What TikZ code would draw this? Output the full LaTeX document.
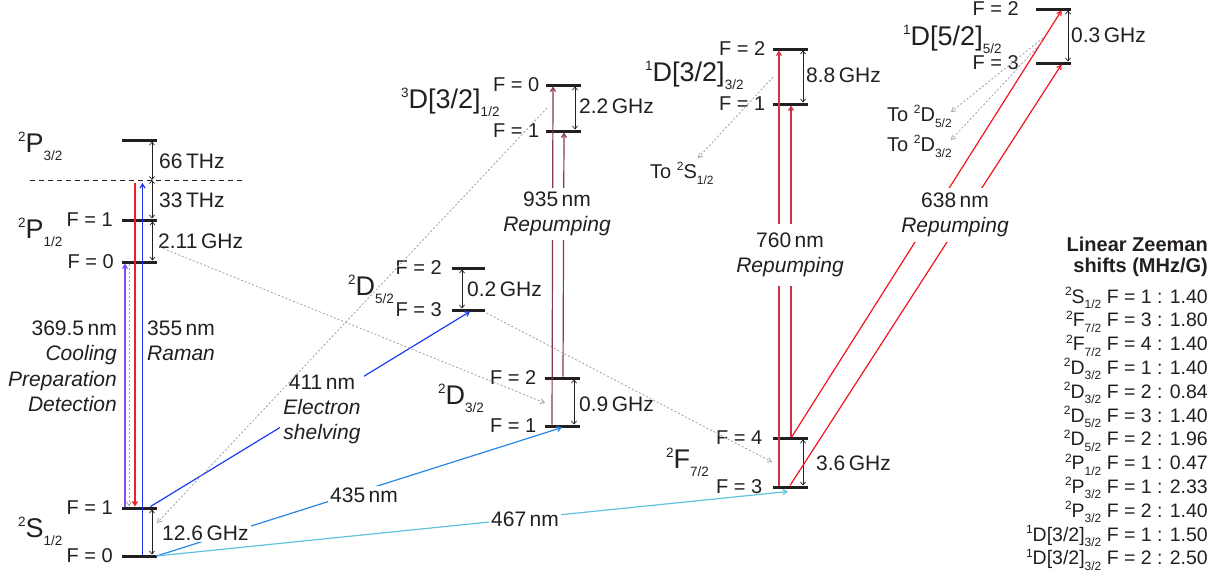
\documentclass[tikz,border=0pt]{standalone}
\usepackage{fontspec}
\setmainfont{Liberation Sans}
\usetikzlibrary{arrows.meta}

% spectroscopic term symbol: multiplicity, letter(s), J
\newcommand\term[3]{\raisebox{10.5pt}{\fontsize{13.5}{13.5}\selectfont #1}#2\raisebox{-8pt}{\fontsize{13.5}{13.5}\selectfont #3}}
% medium size, for the "To ..." decay labels
\newcommand\mterm[3]{\raisebox{8pt}{\fontsize{12}{12}\selectfont #1}#2\raisebox{-6pt}{\fontsize{12}{12}\selectfont #3}}
% small size, for the Zeeman table
\newcommand\sterm[3]{\raisebox{7.5pt}{\fontsize{12}{12}\selectfont #1}#2\raisebox{-5.5pt}{\fontsize{12}{12}\selectfont #3}}

\definecolor{ink}{RGB}{35,31,32}
\definecolor{cViolet}{RGB}{130,80,240}
\definecolor{cRed}{RGB}{235,30,40}
\definecolor{cBlue}{RGB}{30,50,235}
\definecolor{cShelve}{RGB}{25,60,245}
\definecolor{cBlueB}{RGB}{40,135,225}
\definecolor{cCyan}{RGB}{95,195,225}
\definecolor{cMaroon}{RGB}{135,55,80}
\definecolor{cCrimson}{RGB}{205,50,70}
\definecolor{cRedB}{RGB}{245,20,30}
\definecolor{cDecay}{RGB}{160,160,160}

\tikzset{
  level/.style={fill=ink, minimum width=35pt, minimum height=3pt, inner sep=0pt, outer sep=0pt, draw=none},
  flab/.style={anchor=east, inner sep=0pt, text=ink, font=\fontsize{20}{24}\selectfont},
  lab/.style={inner sep=0pt, text=ink, font=\fontsize{21}{25}\selectfont},
  termlab/.style={anchor=base west, inner sep=0pt, text=ink, font=\fontsize{27}{30}\selectfont},
  gapline/.style={draw=ink, line width=0.7pt, {Straight Barb[length=3pt,width=5pt]}-{Straight Barb[length=3pt,width=5pt]}},
  trans/.style={line width=1.2pt, -{Straight Barb[length=4pt,width=5pt]}},
  decay/.style={draw=cDecay, line width=0.8pt, dash pattern=on 2pt off 2pt, -{Straight Barb[length=4pt,width=5pt]}},
  virtual/.style={draw=ink, line width=0.9pt, dash pattern=on 5pt off 4pt},
  cut/.style={fill=white, align=center},
  zrow/.style={anchor=base east, inner sep=0pt, text=ink, font=\fontsize{19.5}{22}\selectfont},
}

\begin{document}
\begin{tikzpicture}[x=1pt,y=-1pt]
\useasboundingbox (0,0) rectangle (1222,579);

% ---------- energy levels ----------
\node[level] (P32)   at (139.5,140) {};
\node[level] (P12F1) at (139.5,220) {};
\node[level] (P12F0) at (139.5,262) {};
\node[level] (SF1)   at (139.5,508) {};
\node[level] (SF0)   at (139.5,556) {};
\node[level,minimum width=33pt] (D52F2) at (468.5,268) {};
\node[level,minimum width=33pt] (D52F3) at (468.5,310) {};
\node[level] (D3F0)  at (563,85) {};
\node[level] (D3F1)  at (563,131) {};
\node[level] (D32F2) at (562,378) {};
\node[level] (D32F1) at (562,426) {};
\node[level] (D1F2)  at (790,49) {};
\node[level] (D1F1)  at (790,104) {};
\node[level] (F72F4) at (790,438) {};
\node[level] (F72F3) at (790,487) {};
\node[level] (D5F2)  at (1053.5,9) {};
\node[level] (D5F3)  at (1053.5,63) {};

% virtual level of the Raman beams
\coordinate (virtL) at (30,180);
\coordinate (virtR) at (245,180);
\coordinate (virt)  at (139.5,180);
\draw[virtual] (virtL) -- (virtR);

% ---------- term labels ----------
\node[termlab] (tP32) at (18,152) {\term{2}{P}{3/2}};
\node[termlab] (tP12) at (18,238) {\term{2}{P}{1/2}};
\node[termlab] (tS)   at (18,537) {\term{2}{S}{1/2}};
\node[termlab] (tD52) at (348,295) {\term{2}{D}{5/2}};
\node[termlab] (tD3)  at (401,108) {\term{3}{D[3/2]}{1/2}};
\node[termlab] (tD32) at (438,404) {\term{2}{D}{3/2}};
\node[termlab] (tD1)  at (645,81)  {\term{1}{D[3/2]}{3/2}};
\node[termlab] (tF72) at (666,468) {\term{2}{F}{7/2}};
\node[termlab] (tD5)  at (903,45)  {\term{1}{D[5/2]}{5/2}};

% ---------- hyperfine labels ----------
\node[flab] (fP1)  at ([xshift=-9pt]P12F1.west) {F = 1};
\node[flab] (fP0)  at ([xshift=-8pt]P12F0.west) {F = 0};
\node[flab] (fS1)  at ([xshift=-9pt]SF1.west) {F = 1};
\node[flab] (fS0)  at ([xshift=-9pt]SF0.west) {F = 0};
\node[flab] (fA2)  at ([xshift=-10pt]D52F2.west) {F = 2};
\node[flab] (fA3)  at ([xshift=-10pt]D52F3.west) {F = 3};
\node[flab] (fB0)  at ([xshift=-6pt]D3F0.west) {F = 0};
\node[flab] (fB1)  at ([xshift=-6pt]D3F1.west) {F = 1};
\node[flab] (fC2)  at ([xshift=-8pt]D32F2.west) {F = 2};
\node[flab] (fC1)  at ([xshift=-8pt]D32F1.west) {F = 1};
\node[flab] (fD2)  at ([xshift=-7pt]D1F2.west) {F = 2};
\node[flab] (fD1)  at ([xshift=-7pt]D1F1.west) {F = 1};
\node[flab] (fE4)  at ([xshift=-10pt]F72F4.west) {F = 4};
\node[flab] (fE3)  at ([xshift=-10pt]F72F3.west) {F = 3};
\node[flab] (fG2)  at ([xshift=-17pt]D5F2.west) {F = 2};
\node[flab] (fG3)  at ([xshift=-17pt]D5F3.west) {F = 3};

% ---------- splittings ----------
\draw[gapline] ([xshift=12.5pt]P32.south) -- ([xshift=12.5pt]virt);
\draw[gapline] ([xshift=12.5pt]virt) -- ([xshift=12.5pt]P12F1.north);
\draw[gapline] ([xshift=13pt]P12F1.south) -- ([xshift=13pt]P12F0.north);
\draw[gapline] ([xshift=12.5pt]SF1.south) -- ([xshift=12.5pt]SF0.north);
\draw[gapline] ([xshift=-6.5pt]D52F2.south) -- ([xshift=-6.5pt]D52F3.north);
\draw[gapline] ([xshift=12pt]D3F0.south) -- ([xshift=12pt]D3F1.north);
\draw[gapline] ([xshift=12pt]D32F2.south) -- ([xshift=12pt]D32F1.north);
\draw[gapline] ([xshift=13pt]D1F2.south) -- ([xshift=13pt]D1F1.north);
\draw[gapline] ([xshift=13pt]F72F4.south) -- ([xshift=13pt]F72F3.north);
\draw[gapline] ([xshift=14.5pt]D5F2.south) -- ([xshift=14.5pt]D5F3.north);

\node[lab,anchor=west] (g66) at (159,161) {66\,THz};
\node[lab,anchor=west] (g33) at (159,200) {33\,THz};
\node[lab,anchor=west] (g211) at (158,241) {2.11\,GHz};
\node[lab,anchor=west] (g02) at (467,289) {0.2\,GHz};
\node[lab,anchor=west] (g22) at (579,106) {2.2\,GHz};
\node[lab,anchor=west] (g09) at (579,404) {0.9\,GHz};
\node[lab,anchor=west] (g88) at (806,75) {8.8\,GHz};
\node[lab,anchor=west] (g36) at (816,463) {3.6\,GHz};
\node[lab,anchor=west] (g03) at (1071,35) {0.3\,GHz};

% ---------- laser transitions ----------
\draw[trans,cViolet] ([xshift=-14.5pt]SF1.north) -- ([xshift=-14.5pt]P12F0.south);
\draw[trans,cRed] ([xshift=-4.5pt,yshift=-3pt]virt) -- ([xshift=-4.5pt]SF1.north);
\draw[trans,cBlue] ([xshift=3pt]SF0.north) -- ([xshift=3pt,yshift=-3pt]virt);

\draw[trans,cShelve] ([xshift=11pt]SF1.north) -- ([xshift=1.5pt]D52F3.south);
\draw[trans,cBlueB] ([xshift=17pt]SF0.center) -- (D32F1.south);
\draw[trans,cCyan] ([xshift=17pt]SF0.center) -- ([xshift=-2pt,yshift=-3pt]F72F3.south);

\draw[trans,cMaroon] ([xshift=-10pt]D32F1.north) -- ([xshift=-10pt]D3F0.south);
\draw[trans,cMaroon] ([xshift=1pt]D32F2.north) -- ([xshift=1pt]D3F1.south);

\draw[trans,cCrimson] ([xshift=-11pt]F72F3.north) -- ([xshift=-11pt]D1F2.south);
\draw[trans,cCrimson] ([xshift=1pt]F72F4.north) -- ([xshift=1pt]D1F1.south);

\draw[trans,cRedB] ([xshift=2pt]F72F4.north) -- ([xshift=8pt]D5F2.south);
\draw[trans,cRedB] (F72F3.north) -- ([xshift=8pt]D5F3.south);

% ---------- transition labels ----------
\node[lab,anchor=base east] (w369) at (117,335) {369.5\,nm};
\node[lab,anchor=base east] (wCool) at (117,360.5) {\itshape Cooling};
\node[lab,anchor=base east] (wPrep) at (117,386) {\itshape Preparation};
\node[lab,anchor=base east] (wDet) at (117,411.5) {\itshape Detection};
\node[lab,anchor=base west] (w355) at (147,335) {355\,nm};
\node[lab,anchor=base west] (wRam) at (147,360.5) {\itshape Raman};

\node[lab,cut,inner sep=3pt] (w411) at (322,409) {411\,nm\\\itshape Electron\\\itshape shelving};
\node[lab,cut,inner sep=2pt] (w435) at (364,495) {435\,nm};
\node[lab,cut,inner sep=2pt] (w467) at (525,519) {467\,nm};
\node[lab,cut,inner sep=2pt,anchor=west] (g126) at (160,533) {12.6\,GHz};
\node[lab,cut,inner xsep=3pt,inner ysep=4pt] (w935) at (557,214) {935\,nm\\\itshape Repumping};
\node[lab,cut,inner xsep=3pt,inner ysep=9pt] (w760) at (790,255) {760\,nm\\\itshape Repumping};
\node[lab,cut,inner xsep=3pt,inner ysep=5pt] (w638) at (955,215) {638\,nm\\\itshape Repumping};

% ---------- decay channels ----------
\node[anchor=base west,inner sep=0pt,text=ink,font=\fontsize{20}{24}\selectfont] (toS) at (650,178) {To \mterm{2}{S}{1/2}};
\node[anchor=base west,inner sep=0pt,text=ink,font=\fontsize{20}{24}\selectfont] (toD52) at (887,121) {To \mterm{2}{D}{5/2}};
\node[anchor=base west,inner sep=0pt,text=ink,font=\fontsize{20}{24}\selectfont] (toD32) at (887,151) {To \mterm{2}{D}{3/2}};
\coordinate (toSend) at (698,158);
\coordinate (toD52end) at (951,112);
\coordinate (toD32end) at (951,140);

\draw[decay] ([xshift=-10.5pt]P12F0.south) -- ([xshift=-10.5pt]SF1.north);
\draw[decay] ([xshift=-16pt,yshift=-23pt]D3F0.center) -- ([xshift=17.5pt,yshift=-15pt]SF1.center);
\draw[decay] ([xshift=20pt,yshift=15pt]P12F0.center) -- ([xshift=-17pt,yshift=-25pt]D32F2.center);
\draw[decay] ([xshift=18pt,yshift=-3pt]D52F3.center) -- ([xshift=-18pt,yshift=-24pt]F72F4.center);
\draw[decay] ([xshift=-17pt,yshift=-28pt]D1F2.center) -- (toSend);
\draw[decay] ([xshift=-10.5pt,yshift=-29pt]D5F2.center) -- (toD52end);
\draw[decay] ([xshift=-11.5pt,yshift=-33pt]D5F2.center) -- (toD32end);

% ---------- Zeeman table ----------
\node[anchor=base east,inner sep=0pt,text=ink,font=\fontsize{20}{22}\selectfont\bfseries] (zh1) at (1208,251) {Linear Zeeman};
\node[anchor=base east,inner sep=0pt,text=ink,font=\fontsize{20}{22}\selectfont\bfseries] (zh2) at (1208,272) {shifts (MHz/G)};
\foreach \r [count=\i from 0] in {
  {\sterm{2}{S}{1/2} F = 1 : 1.40},
  {\sterm{2}{F}{7/2} F = 3 : 1.80},
  {\sterm{2}{F}{7/2} F = 4 : 1.40},
  {\sterm{2}{D}{3/2} F = 1 : 1.40},
  {\sterm{2}{D}{3/2} F = 2 : 0.84},
  {\sterm{2}{D}{5/2} F = 3 : 1.40},
  {\sterm{2}{D}{5/2} F = 2 : 1.96},
  {\sterm{2}{P}{1/2} F = 1 : 0.47},
  {\sterm{2}{P}{3/2} F = 1 : 2.33},
  {\sterm{2}{P}{3/2} F = 2 : 1.40},
  {\sterm{1}{D[3/2]}{3/2} F = 1 : 1.50},
  {\sterm{1}{D[3/2]}{3/2} F = 2 : 2.50}}
  \node[zrow] (z\i) at (1208,303+23.8*\i) {\r};

\end{tikzpicture}
\end{document}
